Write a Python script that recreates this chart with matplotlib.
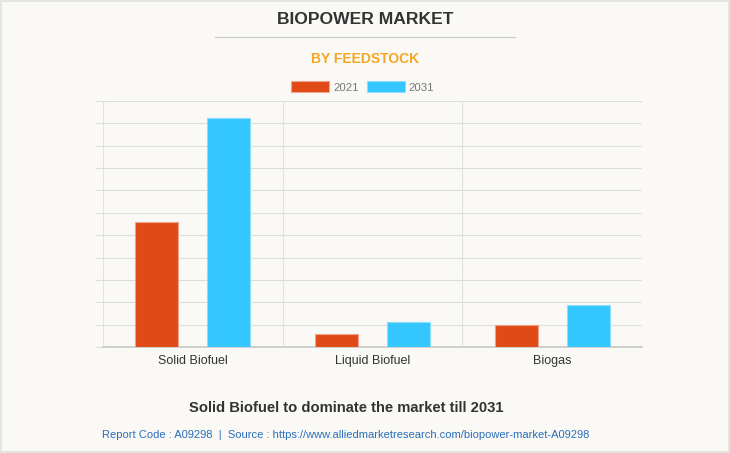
import matplotlib.pyplot as plt
import numpy as np

plt.rcParams['font.family'] = ['Liberation Sans', 'DejaVu Sans']

categories = ['Solid Biofuel', 'Liquid Biofuel', 'Biogas']
years = ['2021', '2031']
values_2021 = [5.57, 0.58, 1.0]
values_2031 = [10.22, 1.10, 1.86]
colors = ['#e04a16', '#33c6ff']

bg = '#faf9f6'
fig = plt.figure(figsize=(7.3, 4.53), dpi=100, facecolor=bg)
ax = fig.add_axes([0.1411, 0.234, 0.7384, 0.543], facecolor=bg)

x = np.arange(len(categories))
w = 0.24
off = 0.2
b1 = ax.bar(x - off, values_2021, w, color=colors[0], edgecolor='#eea58c', linewidth=0.8, label=years[0], zorder=3)
b2 = ax.bar(x + off, values_2031, w, color=colors[1], edgecolor='#8fdcff', linewidth=0.8, label=years[1], zorder=3)

ax.set_xlim(-0.5, len(categories) - 0.5)
ax.set_ylim(0, 11)
ax.set_yticks(np.arange(0, 12, 1))
ax.set_yticklabels([])
ax.tick_params(axis='y', length=6, color='#dddddd', width=0.8)
ax.tick_params(axis='x', length=0, labelsize=9, labelcolor='#333333', pad=6)
ax.set_xticks(x)
ax.set_xticklabels(categories)
ax.grid(axis='y', color='#dddddd', linewidth=0.8, zorder=0)
for xv in np.arange(-0.5, len(categories), 1):
    ax.axvline(xv, color='#e2e2e2', linewidth=0.8, zorder=0)
for s in ['top', 'right', 'left']:
    ax.spines[s].set_visible(False)
ax.spines['bottom'].set_color('#c8c8c8')
ax.spines['bottom'].set_linewidth(1.2)

fig.text(0.5, 1 - 20 / 453, 'BIOPOWER MARKET', ha='center', va='center', fontsize=12.6,
         fontweight='bold', color='#333333')
fig.add_artist(plt.Line2D([215 / 730, 515 / 730], [1 - 37 / 453] * 2, color='#cccccc', linewidth=0.9))
fig.text(0.5, 1 - 59 / 453, 'BY FEEDSTOCK', ha='center', va='center', fontsize=10,
         fontweight='bold', color='#f5a623')

leg = fig.legend(handles=[b1, b2], labels=years, loc='center', bbox_to_anchor=(0.497, 1 - 87 / 453),
                 ncol=2, frameon=False, fontsize=8.2, handlelength=3.3, handleheight=1.05,
                 handletextpad=0.35, columnspacing=0.75, labelcolor='#777777')

fig.text(346 / 730, 1 - 408 / 453, 'Solid Biofuel to dominate the market till 2031', ha='center', va='center',
         fontsize=10.6, fontweight='bold', color='#333333')
fig.text(346 / 730, 1 - 435 / 453,
         'Report Code : A09298  |  Source : https://www.alliedmarketresearch.com/biopower-market-A09298',
         ha='center', va='center', fontsize=8.05, color='#2a6ebb')

fig.add_artist(plt.Rectangle((0.001, 0.002), 0.998, 0.996, transform=fig.transFigure,
                             fill=False, edgecolor='#e0e0e0', linewidth=1.2))

fig.savefig('out.png', dpi=100, facecolor=bg)
